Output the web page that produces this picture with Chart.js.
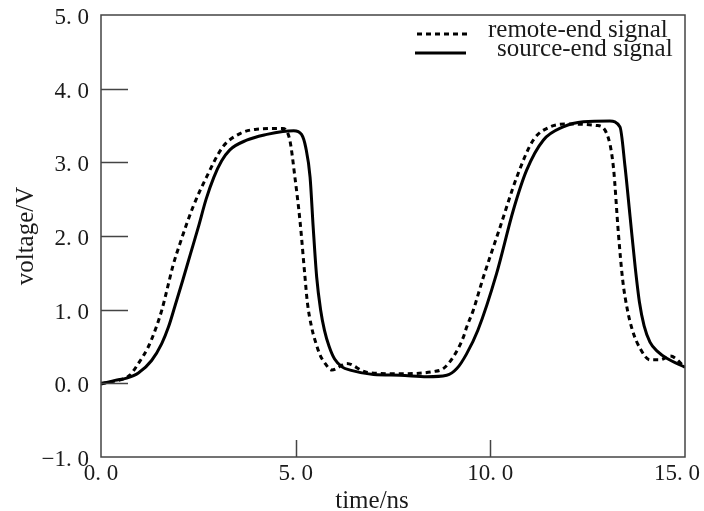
<!DOCTYPE html>
<html>
<head>
<meta charset="utf-8">
<script src="https://cdn.jsdelivr.net/npm/chart.js@4.4.1/dist/chart.umd.min.js"></script>
<style>
  html, body { margin: 0; padding: 0; background: #fff; }
  canvas { display: block; }
</style>
</head>
<body>
<canvas id="signal-chart" width="704" height="511"></canvas>
<script>
// values (time in ns, voltage in V)
const remoteTime = [0, 0.36, 0.74, 0.96, 1.21, 1.39, 1.56, 1.7, 1.85, 2.03, 2.36, 2.71, 3.13, 3.57, 4.0, 4.67, 4.85, 4.98, 5.11, 5.24, 5.3, 5.41, 5.5, 5.63, 5.73, 5.93, 6.31, 6.82, 7.68, 8.54, 8.79, 9.05, 9.31, 9.39, 9.56, 9.82, 10.25, 10.68, 11.1, 11.53, 11.96, 12.73, 12.99, 13.16, 13.29, 13.4, 13.52, 13.65, 13.85, 14.1, 14.36, 14.62, 15.0];
const remoteVolt = [0, 0.03, 0.11, 0.27, 0.49, 0.72, 0.99, 1.28, 1.6, 1.9, 2.39, 2.8, 3.21, 3.39, 3.45, 3.46, 3.3, 2.8, 2.21, 1.44, 1.1, 0.76, 0.58, 0.38, 0.29, 0.18, 0.27, 0.15, 0.13, 0.16, 0.2, 0.36, 0.63, 0.76, 0.99, 1.44, 2.12, 2.8, 3.3, 3.48, 3.52, 3.5, 3.39, 2.94, 2.03, 1.4, 1.0, 0.72, 0.47, 0.32, 0.32, 0.37, 0.22];

const sourceTime = [0, 0.36, 0.66, 0.96, 1.3, 1.56, 1.73, 1.9, 2.1, 2.3, 2.5, 2.7, 2.9, 3.1, 3.31, 3.74, 4.26, 4.67, 4.95, 5.15, 5.26, 5.37, 5.45, 5.54, 5.64, 5.74, 5.86, 6.0, 6.2, 6.4, 7.0, 7.68, 8.37, 8.88, 9.14, 9.39, 9.68, 10.16, 10.59, 10.93, 11.36, 11.87, 12.39, 13.07, 13.33, 13.46, 13.59, 13.72, 13.83, 13.95, 14.1, 14.3, 14.53, 15.0];
const sourceVolt = [-0.01, 0.04, 0.07, 0.14, 0.31, 0.54, 0.76, 1.05, 1.4, 1.76, 2.12, 2.5, 2.8, 3.02, 3.17, 3.3, 3.38, 3.42, 3.43, 3.38, 3.2, 2.8, 2.12, 1.44, 1.0, 0.72, 0.5, 0.33, 0.22, 0.18, 0.12, 0.11, 0.09, 0.11, 0.2, 0.4, 0.72, 1.49, 2.35, 2.89, 3.3, 3.48, 3.55, 3.56, 3.48, 2.94, 2.26, 1.58, 1.1, 0.78, 0.56, 0.43, 0.34, 0.22];

const xTicks = [0, 5, 10, 15];
const seriesNames = ["remote-end signal", "source-end signal"];
const axisTitles = { x: "time/ns", y: "voltage/V" };

const AXIS_COLOR = "#444";
const TEXT_COLOR = "#1a1a1a";
const SERIF = "'Liberation Serif', 'Times New Roman', serif";

function toPoints(xs, ys) {
  return xs.map((x, i) => ({ x, y: ys[i] }));
}

function tickText(value) {
  const s = Math.abs(value).toFixed(1).replace(".", ". ");
  return value < 0 ? "\u2212" + s : s;
}

// box, inward tick marks, x labels, x title and legend
const framePlugin = {
  id: "frame",
  afterDraw(chart) {
    const { ctx, chartArea } = chart;
    const { left, right, top, bottom } = chartArea;
    const xScale = chart.scales.x;
    const yScale = chart.scales.y;

    ctx.save();
    ctx.strokeStyle = AXIS_COLOR;
    ctx.lineWidth = 1.5;
    ctx.strokeRect(left, top, right - left, bottom - top);

    ctx.beginPath();
    yScale.ticks.forEach((t) => {
      if (t.value <= yScale.min || t.value >= yScale.max) return;
      const py = Math.round(yScale.getPixelForValue(t.value)) + 0.5;
      ctx.moveTo(left, py);
      ctx.lineTo(left + 27, py);
    });
    xTicks.forEach((v) => {
      if (v <= xScale.min || v >= xScale.max) return;
      const px = Math.round(xScale.getPixelForValue(v)) + 0.5;
      ctx.moveTo(px, bottom);
      ctx.lineTo(px, bottom - 17);
    });
    ctx.stroke();

    ctx.fillStyle = TEXT_COLOR;
    ctx.font = "23px " + SERIF;
    ctx.textAlign = "center";
    ctx.textBaseline = "top";
    xTicks.forEach((v) => {
      const label = tickText(v);
      const w = ctx.measureText(label).width;
      let px = xScale.getPixelForValue(v);
      px = Math.min(px, chart.width - 4 - w / 2);
      ctx.fillText(label, px, bottom + 5);
    });

    ctx.font = "25px " + SERIF;
    ctx.textBaseline = "alphabetic";
    ctx.fillText(axisTitles.x, 372, 508);

    // legend
    ctx.strokeStyle = "#000";
    ctx.lineWidth = 3;
    ctx.setLineDash([5, 4]);
    ctx.beginPath();
    ctx.moveTo(417, 34);
    ctx.lineTo(469, 34);
    ctx.stroke();
    ctx.setLineDash([]);
    ctx.beginPath();
    ctx.moveTo(415, 53);
    ctx.lineTo(466, 53);
    ctx.stroke();

    ctx.textAlign = "left";
    ctx.fillText(seriesNames[0], 488, 37);
    ctx.fillText(seriesNames[1], 497, 56);
    ctx.restore();
  },
};

new Chart(document.getElementById("signal-chart"), {
  type: "line",
  data: {
    datasets: [
      {
        label: seriesNames[0],
        data: toPoints(remoteTime, remoteVolt),
        borderColor: "#000",
        borderWidth: 3,
        borderDash: [5, 4],
        pointRadius: 0,
        cubicInterpolationMode: "monotone",
        fill: false,
      },
      {
        label: seriesNames[1],
        data: toPoints(sourceTime, sourceVolt),
        borderColor: "#000",
        borderWidth: 3,
        pointRadius: 0,
        cubicInterpolationMode: "monotone",
        fill: false,
      },
    ],
  },
  options: {
    responsive: false,
    animation: false,
    layout: { padding: { left: 0, top: 15, right: 19, bottom: 0 } },
    plugins: {
      legend: { display: false },
      tooltip: { enabled: false },
    },
    scales: {
      x: {
        type: "linear",
        min: 0,
        max: 15,
        grid: { display: false, drawTicks: false },
        border: { display: false },
        ticks: { display: false, stepSize: 5 },
        afterFit: (scale) => {
          scale.height = 54;
          scale.paddingLeft = 0;
          scale.paddingRight = 0;
        },
      },
      y: {
        min: -1,
        max: 5,
        grid: { display: false, drawTicks: false },
        border: { display: false },
        ticks: {
          stepSize: 1,
          padding: 12,
          labelOffset: 3,
          color: TEXT_COLOR,
          font: { family: SERIF, size: 23 },
          callback: (value) => tickText(value),
        },
        title: {
          display: true,
          text: axisTitles.y,
          color: TEXT_COLOR,
          font: { family: SERIF, size: 25 },
          padding: { top: 11, bottom: 0 },
        },
        afterFit: (scale) => {
          scale.width = 101;
          scale.paddingTop = 0;
          scale.paddingBottom = 0;
        },
      },
    },
  },
  plugins: [framePlugin],
});
</script>
</body>
</html>
